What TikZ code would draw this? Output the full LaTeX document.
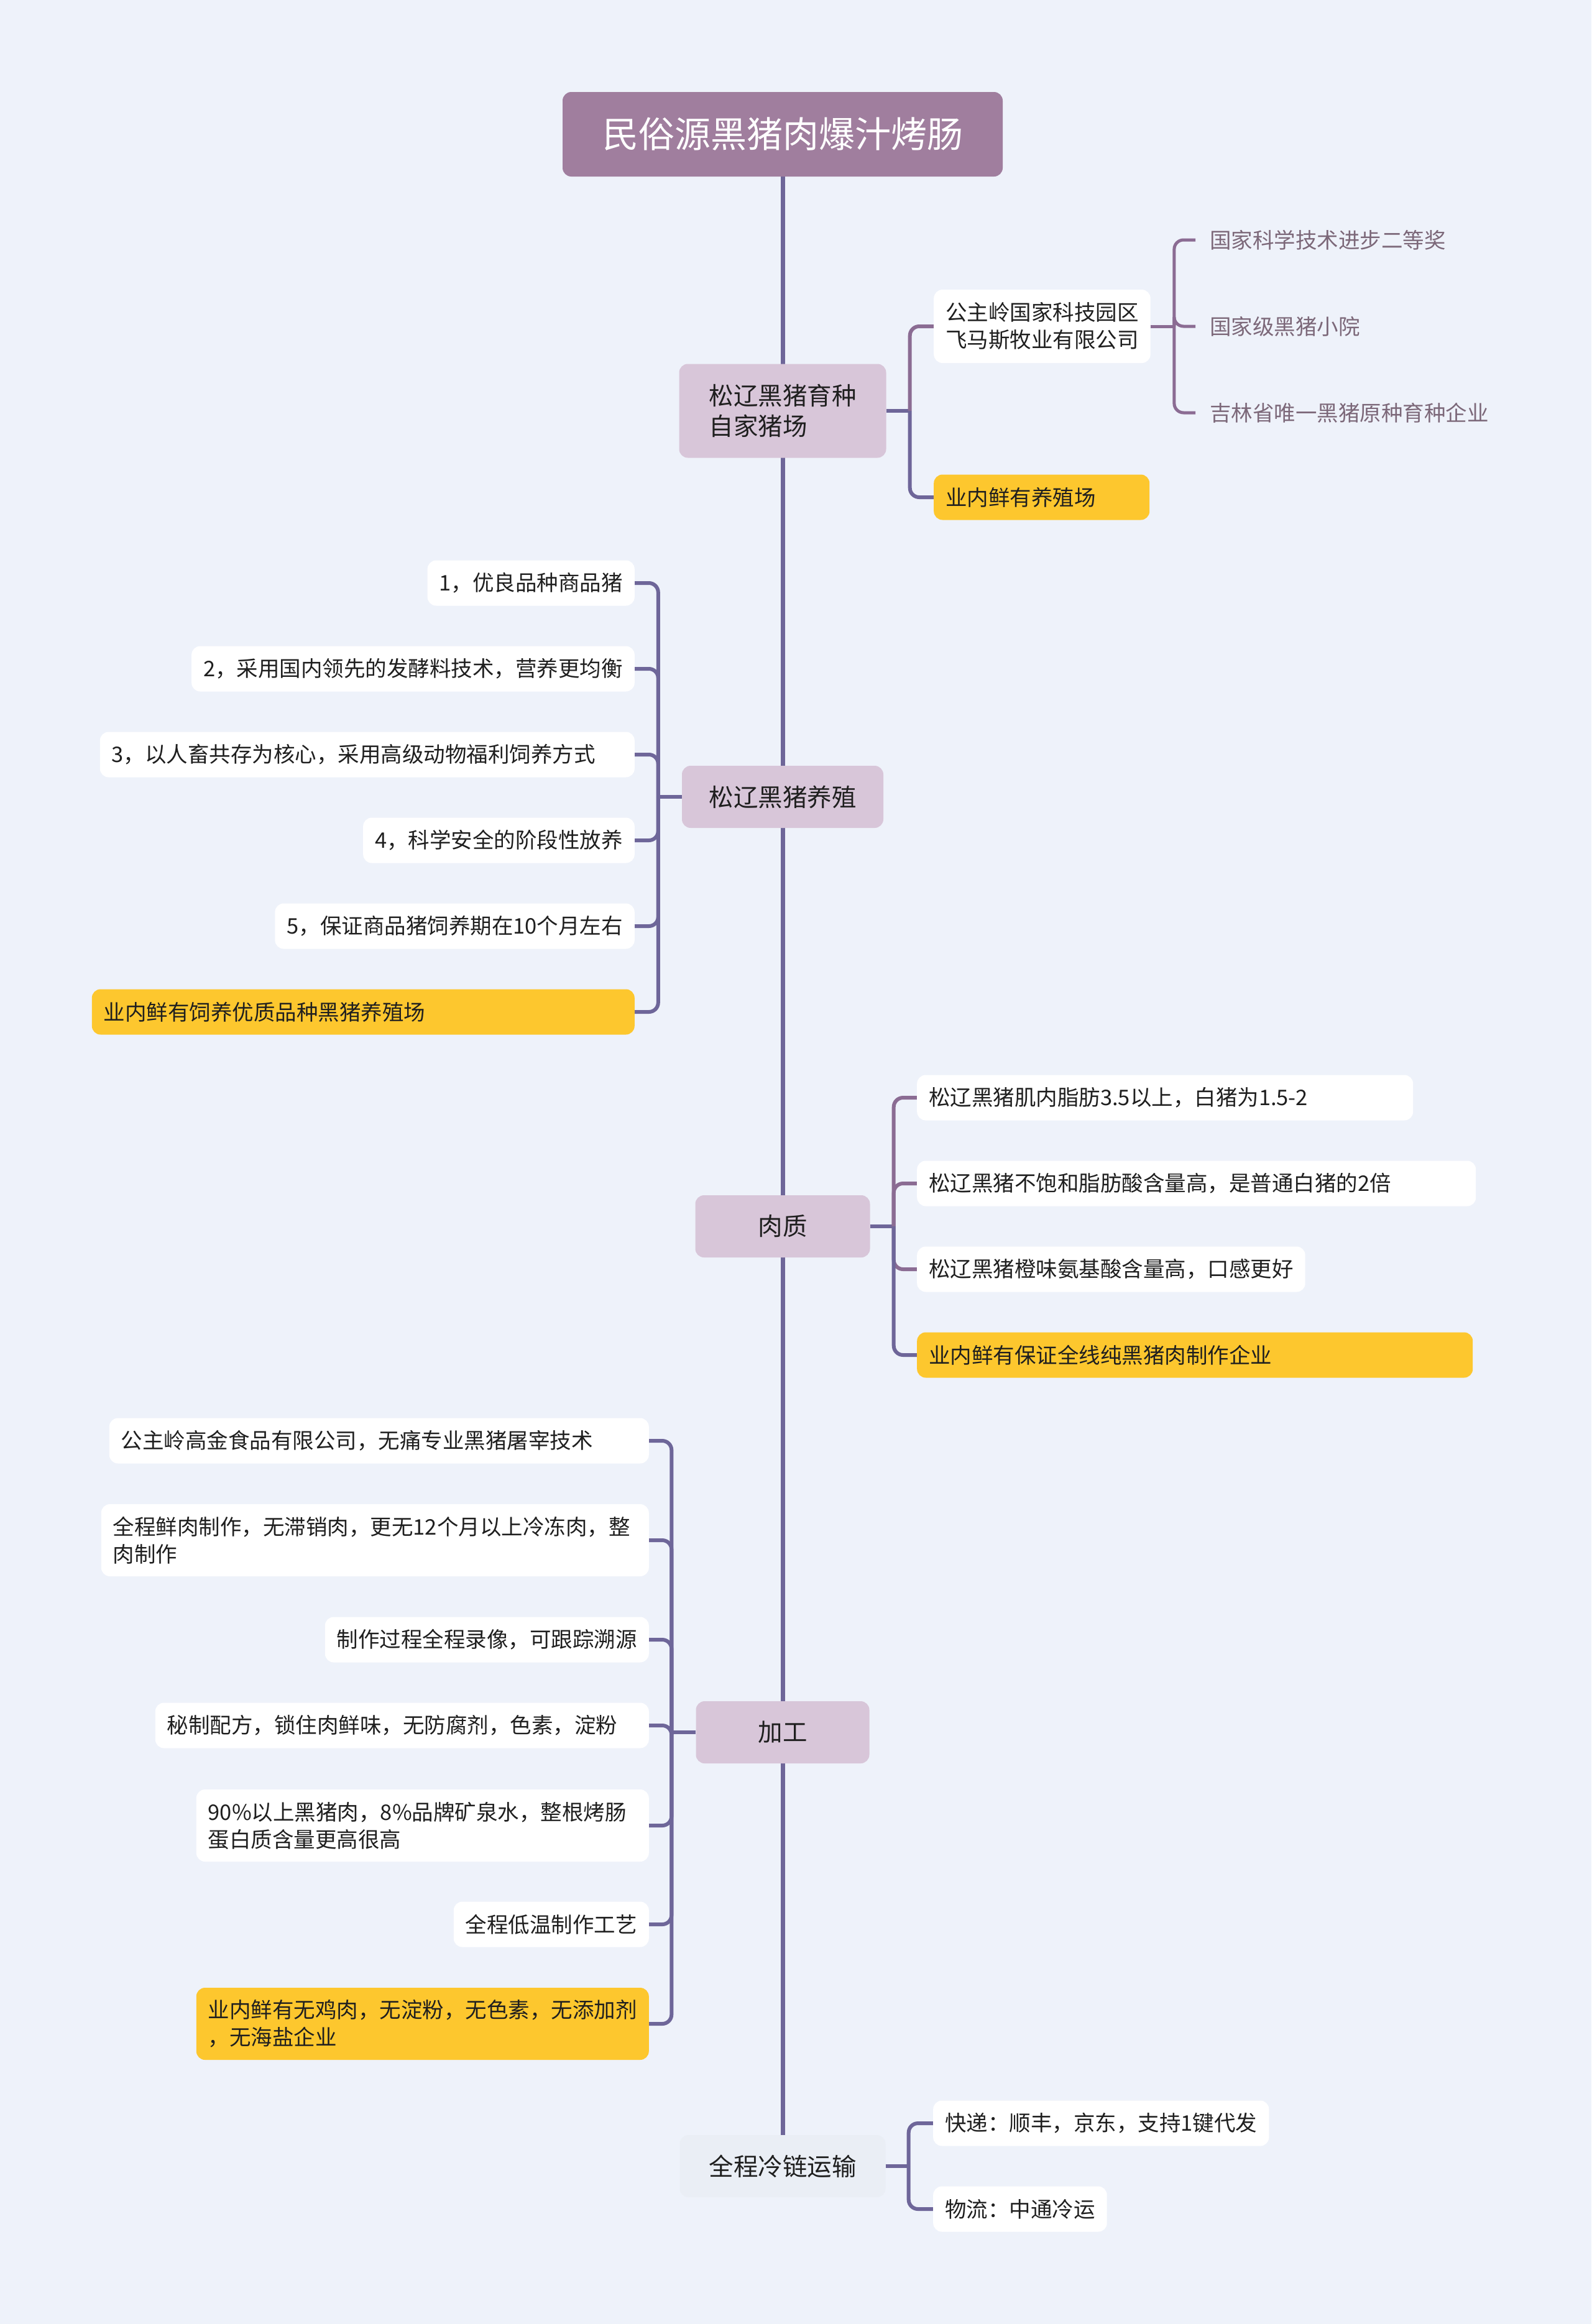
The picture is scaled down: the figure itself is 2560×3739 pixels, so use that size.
\documentclass[tikz,border=0pt]{standalone}
\usepackage{fontspec}
\setmainfont{Noto Sans CJK SC}
\usetikzlibrary{backgrounds,positioning}
\definecolor{paper}{HTML}{EEF2FA}
\definecolor{rootfill}{HTML}{A07E9E}
\definecolor{topicfill}{HTML}{D8C6D9}
\definecolor{coldfill}{HTML}{EAEEF5}
\definecolor{trunk}{HTML}{6E6699}
\definecolor{twig}{HTML}{8B6C93}
\definecolor{hint}{HTML}{7C6879}
\definecolor{gold}{HTML}{FDC72E}
\definecolor{ink}{HTML}{1F1F1F}

\tikzset{
  rootbox/.style={fill=rootfill, text=white, rounded corners=14pt,
    minimum width=708pt, minimum height=136pt,
    font=\fontsize{58}{70}\selectfont},
  topic/.style={fill=topicfill, text=ink, rounded corners=14pt,
    minimum height=100pt, align=left, font=\fontsize{39.5}{49}\selectfont},
  leaf/.style={fill=white, text=ink, rounded corners=14pt, inner xsep=19pt,
    inner ysep=0pt, minimum height=73pt, align=left,
    font=\fontsize{34.5}{44}\selectfont},
  hot/.style={leaf, fill=gold},
  award/.style={text=hint, inner xsep=23pt, inner ysep=0pt,
    font=\fontsize{34.5}{44}\selectfont},
  link/.style={draw=trunk, line width=6pt, rounded corners=15pt},
}

\begin{document}
\begin{tikzpicture}[x=1pt,y=-1pt]
  \useasboundingbox (0,0) rectangle (2560,3739);

  % root and main topics
  \node[rootbox] (root) at (1259,216) {民俗源黑猪肉爆汁烤肠};
  \node[topic, minimum width=333pt, minimum height=151pt] (breed) at (1259,661)
    {松辽黑猪育种\\自家猪场};
  \node[topic, minimum width=324pt] (rear) at (1259,1282) {松辽黑猪养殖};
  \node[topic, minimum width=281pt] (meat) at (1259,1973) {肉质};
  \node[topic, minimum width=279pt] (craft) at (1259,2787) {加工};
  \node[topic, fill=coldfill, minimum width=331pt] (cold) at (1259,3485) {全程冷链运输};

  % breeding
  \node[leaf, anchor=west, minimum height=118pt] (park) at (1502,525)
    {公主岭国家科技园区\\飞马斯牧业有限公司};
  \node[hot, anchor=west, text width=309pt] (farm) at (1502,800) {业内鲜有养殖场};
  \node[award, anchor=west] (prize) at (1923,386) {国家科学技术进步二等奖};
  \node[award, anchor=west] (yard) at (1923,525) {国家级黑猪小院};
  \node[award, anchor=west] (only) at (1923,664) {吉林省唯一黑猪原种育种企业};

  % rearing
  \node[leaf, anchor=east] (r1) at (1021,938) {1，优良品种商品猪};
  \node[leaf, anchor=east] (r2) at (1021,1076) {2，采用国内领先的发酵料技术，营养更均衡};
  \node[leaf, anchor=east, text width=822pt] (r3) at (1021,1214)
    {3，以人畜共存为核心，采用高级动物福利饲养方式};
  \node[leaf, anchor=east] (r4) at (1021,1352) {4，科学安全的阶段性放养};
  \node[leaf, anchor=east] (r5) at (1021,1490) {5，保证商品猪饲养期在10个月左右};
  \node[hot, anchor=east, text width=835pt] (r6) at (1021,1628)
    {业内鲜有饲养优质品种黑猪养殖场};

  % meat quality
  \node[leaf, anchor=west, text width=760pt] (m1) at (1475,1766)
    {松辽黑猪肌内脂肪3.5以上，白猪为1.5-2};
  \node[leaf, anchor=west, text width=861pt] (m2) at (1475,1904)
    {松辽黑猪不饱和脂肪酸含量高，是普通白猪的2倍};
  \node[leaf, anchor=west] (m3) at (1475,2042) {松辽黑猪橙味氨基酸含量高，口感更好};
  \node[hot, anchor=west, text width=856pt] (m4) at (1475,2180)
    {业内鲜有保证全线纯黑猪肉制作企业};

  % processing
  \node[leaf, anchor=east, text width=830pt] (k1) at (1044,2318)
    {公主岭高金食品有限公司，无痛专业黑猪屠宰技术};
  \node[leaf, anchor=east, text width=843pt, minimum height=116pt] (k2) at (1044,2478)
    {全程鲜肉制作，无滞销肉，更无12个月以上冷冻肉，整\\肉制作};
  \node[leaf, anchor=east] (k3) at (1044,2638) {制作过程全程录像，可跟踪溯源};
  \node[leaf, anchor=east, text width=756pt] (k4) at (1044,2776)
    {秘制配方，锁住肉鲜味，无防腐剂，色素，淀粉};
  \node[leaf, anchor=east, text width=690pt, minimum height=116pt] (k5) at (1044,2937)
    {90\%以上黑猪肉，8\%品牌矿泉水，整根烤肠\\蛋白质含量更高很高};
  \node[leaf, anchor=east] (k6) at (1044,3096) {全程低温制作工艺};
  \node[hot, anchor=east, minimum height=116pt] (k7) at (1044,3256)
    {业内鲜有无鸡肉，无淀粉，无色素，无添加剂\\，无海盐企业};

  % cold chain
  \node[leaf, anchor=west] (s1) at (1501,3416) {快递：顺丰，京东，支持1键代发};
  \node[leaf, anchor=west] (s2) at (1501,3554) {物流：中通冷运};

  % joints
  \coordinate (breedbar) at ([xshift=38pt]breed.east);
  \coordinate (parkbar) at ([xshift=38pt]park.east);
  \coordinate (rearbar) at ([xshift=-38pt]rear.west);
  \coordinate (meatbar) at ([xshift=38pt]meat.east);
  \coordinate (craftbar) at ([xshift=-39pt]craft.west);
  \coordinate (coldbar) at ([xshift=37pt]cold.east);

  \begin{scope}[on background layer]
    \fill[paper] (0,0) rectangle (2560,3739);
    \draw[trunk, line width=7pt] (root.south) -- (cold.north);
    % breeding
    \draw[link] (breed.east) -- (breedbar);
    \draw[link, draw=twig] (breedbar) |- (park.west);
    \draw[link] (breedbar) |- (farm.west);
    \draw[link, draw=twig, line width=5pt] (park.east) -- (parkbar);
    \foreach \n in {prize,yard,only}
      \draw[link, draw=twig, line width=5pt] (parkbar) |- (\n.west);
    % rearing
    \draw[link] (rear.west) -- (rearbar);
    \foreach \n in {r1,r2,r3,r4,r5,r6}
      \draw[link] (rearbar) |- (\n.east);
    % meat quality
    \draw[link] (meat.east) -- (meatbar);
    \foreach \n in {m1,m2,m3}
      \draw[link, draw=twig] (meatbar) |- (\n.west);
    \draw[link] (meatbar) |- (m4.west);
    % processing
    \draw[link] (craft.west) -- (craftbar);
    \foreach \n in {k1,k2,k3,k4,k5,k6,k7}
      \draw[link] (craftbar) |- (\n.east);
    % cold chain
    \draw[link] (cold.east) -- (coldbar);
    \foreach \n in {s1,s2}
      \draw[link] (coldbar) |- (\n.west);
  \end{scope}
\end{tikzpicture}
\end{document}
